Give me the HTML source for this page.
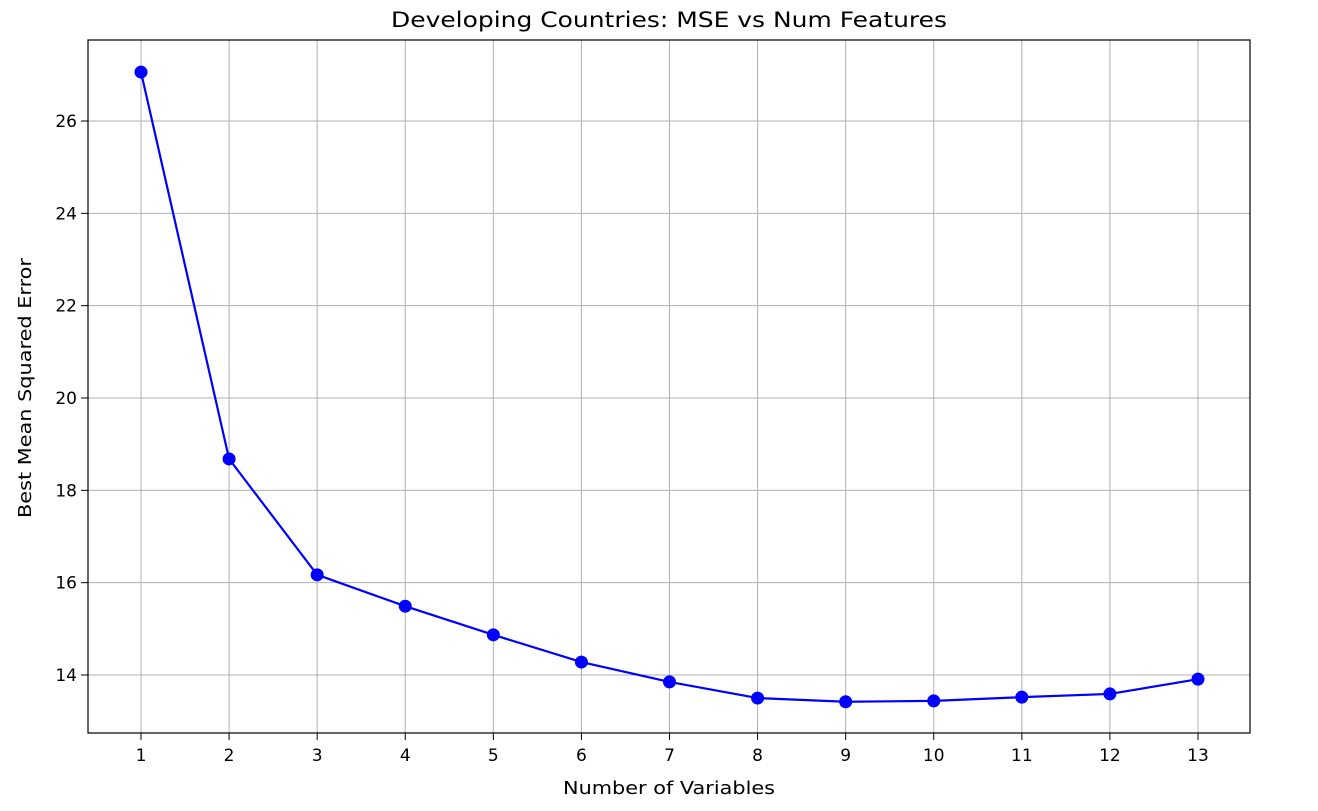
<!DOCTYPE html>
<html><head><meta charset="utf-8">
<style>
html,body{margin:0;padding:0;background:#fff;}
svg{display:block;font-family:"DejaVu Sans","Liberation Sans",sans-serif;}
</style></head>
<body>
<svg id="chart" width="1318" height="811" viewBox="0 0 1318 811" xmlns="http://www.w3.org/2000/svg">
<text x="669" y="27" text-anchor="middle" font-size="21" textLength="556" lengthAdjust="spacingAndGlyphs" fill="#000">Developing Countries: MSE vs Num Features</text>
<text x="669" y="794" text-anchor="middle" font-size="18" textLength="212" lengthAdjust="spacingAndGlyphs" fill="#000">Number of Variables</text>
<text x="31" y="388" text-anchor="middle" font-size="18" textLength="260" lengthAdjust="spacingAndGlyphs" fill="#000" transform="rotate(-90 31 388)">Best Mean Squared Error</text>
<g id="grid"></g>
<g id="ticks"></g>
<g id="series"></g>
<rect x="88" y="40" width="1162" height="693" fill="none" stroke="#000" stroke-width="1.2"/>
</svg>
<script>
const categories = [1,2,3,4,5,6,7,8,9,10,11,12,13];
const mseValues = [27.06,18.68,16.17,15.49,14.87,14.28,13.85,13.50,13.42,13.44,13.52,13.59,13.91];
const yTickLabels = [14,16,18,20,22,24,26];

const NS = "http://www.w3.org/2000/svg";
function xScale(v){ return 141 + (v-1)*(1198-141)/12; }
function yScale(v){ return 675 - (v-14)*(675-121)/12; }
function mk(tag, attrs){ const e=document.createElementNS(NS,tag); for(const k in attrs) e.setAttribute(k,attrs[k]); return e; }

const grid=document.getElementById('grid'), ticks=document.getElementById('ticks'), series=document.getElementById('series');

categories.forEach(c=>{
  const x=xScale(c);
  const g=mk('line',{x1:x,x2:x,y1:40,y2:733,stroke:'#b0b0b0','stroke-width':1});
  
  
  grid.appendChild(g);
  const t=mk('line',{x1:x,x2:x,y1:733,y2:740,stroke:'#000','stroke-width':1});
  
  
  ticks.appendChild(t);
  const l=mk('text',{x:x,y:761,'text-anchor':'middle','font-size':17,fill:'#000'});
  l.textContent=c;
  
  
  ticks.appendChild(l);
});
yTickLabels.forEach(v=>{
  const y=yScale(v);
  const g=mk('line',{x1:88,x2:1250,y1:y,y2:y,stroke:'#b0b0b0','stroke-width':1});
  
  
  grid.appendChild(g);
  const t=mk('line',{x1:81,x2:88,y1:y,y2:y,stroke:'#000','stroke-width':1});
  
  
  ticks.appendChild(t);
  const l=mk('text',{x:77,y:y+6,'text-anchor':'end','font-size':17,fill:'#000'});
  l.textContent=v;
  
  
  ticks.appendChild(l);
});
const pts=categories.map((c,i)=>xScale(c)+','+yScale(mseValues[i])).join(' ');
const line=mk('polyline',{points:pts,fill:'none',stroke:'#0000ff','stroke-width':2.2});


series.appendChild(line);
categories.forEach((c,i)=>{
  const p=mk('circle',{cx:xScale(c),cy:yScale(mseValues[i]),r:6.5,fill:'#0000ff'});
  
  
  series.appendChild(p);
});
</script>
</body></html>
